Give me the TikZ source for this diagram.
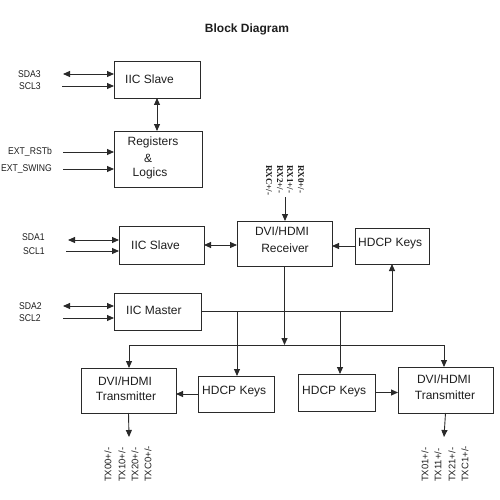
\documentclass[tikz,border=0pt]{standalone}
\usepackage{fontspec}
\setmainfont{Liberation Sans}
\newfontfamily\rxfont{Liberation Serif}
\usetikzlibrary{arrows.meta}
\definecolor{linec}{HTML}{2A2A2A}
\definecolor{textc}{HTML}{1E1E1E}
\begin{document}
\begin{tikzpicture}[x=1pt,y=-1pt,
  box/.style={draw=linec, line width=0.9pt, inner sep=0pt, outer sep=0pt},
  txt/.style={text=textc, font=\fontsize{12}{14}\selectfont, inner sep=0pt},
  sig/.style={text=textc, font=\fontsize{9.8}{11}\selectfont, inner sep=0pt, xscale=0.88},
  rxl/.style={text=textc, font=\rxfont\bfseries\fontsize{9}{10}\selectfont, inner sep=0pt, rotate=-90, anchor=west},
  txl/.style={text=textc, font=\fontsize{9.5}{11}\selectfont, inner sep=0pt, rotate=90, anchor=west},
  wire/.style={draw=linec, line width=0.9pt},
  arr/.style={wire, -{Triangle[length=7pt,width=6pt]}},
  barr/.style={wire, {Triangle[length=7pt,width=6pt]}-{Triangle[length=7pt,width=6pt]}}]
\useasboundingbox (0,0) rectangle (500,500);

% title
\node[text=textc, font=\bfseries\fontsize{12}{14}\selectfont, inner sep=0pt] (title) at (247,29) {Block Diagram};

% boxes
\node[box, minimum width=86pt, minimum height=37pt] (slA) at (157,79.5) {};
\node[box, minimum width=88pt, minimum height=56pt] (reg) at (158,159) {};
\node[box, minimum width=85pt, minimum height=38pt] (slB) at (161.5,245) {};
\node[box, minimum width=95pt, minimum height=45pt] (rcv) at (284.5,243.5) {};
\node[box, minimum width=74pt, minimum height=36pt] (hkR) at (392,246) {};
\node[box, minimum width=87pt, minimum height=37pt] (mst) at (157.5,311.5) {};
\node[box, minimum width=95pt, minimum height=45pt] (txL) at (128.5,390.5) {};
\node[box, minimum width=76pt, minimum height=36pt] (hkL) at (236,394) {};
\node[box, minimum width=77pt, minimum height=37pt] (hkM) at (336.5,392.5) {};
\node[box, minimum width=95pt, minimum height=46pt] (txR) at (445.5,390) {};

% box texts
\node[txt, anchor=west] (tslA) at (125,79) {IIC Slave};
\node[txt] (treg1) at (153,142) {Registers};
\node[txt] (treg2) at (148,158) {\&};
\node[txt] (treg3) at (150,173) {Logics};
\node[txt, anchor=west] (tslB) at (131,245) {IIC Slave};
\node[txt] (trcv1) at (282,231) {DVI/HDMI};
\node[txt] (trcv2) at (285,248) {Receiver};
\node[txt, anchor=west] (thkR) at (358,244) {HDCP Keys};
\node[txt, anchor=west] (tmst) at (126,310) {IIC Master};
\node[txt] (ttxL1) at (125,381) {DVI/HDMI};
\node[txt] (ttxL2) at (126,396) {Transmitter};
\node[txt, anchor=west] (thkL) at (202,392) {HDCP Keys};
\node[txt, anchor=west] (thkM) at (302,392) {HDCP Keys};
\node[txt] (ttxR1) at (444,379) {DVI/HDMI};
\node[txt] (ttxR2) at (445,395) {Transmitter};

% signal labels
\node[sig, anchor=west] (lsda3) at (18,74) {SDA3};
\node[sig, anchor=west] (lscl3) at (19,86) {SCL3};
\node[sig, anchor=east] (lrst) at (52,152) {EXT\_RSTb};
\node[sig, anchor=east] (lswg) at (52,169) {EXT\_SWING};
\node[sig, anchor=west] (lsda1) at (22,237) {SDA1};
\node[sig, anchor=west] (lscl1) at (23,251) {SCL1};
\node[sig, anchor=west] (lsda2) at (19,306) {SDA2};
\node[sig, anchor=west] (lscl2) at (19,318) {SCL2};

\node[rxl] (rxc) at (269,165) {RXC+/-};
\node[rxl] (rx2) at (280,165) {RX2+/-};
\node[rxl] (rx1) at (290,165) {RX1+/-};
\node[rxl] (rx0) at (301,165) {RX0+/-};

\node[txl] (tx00) at (108,482) {TX00+/-};
\node[txl] (tx10) at (122,482) {TX10+/-};
\node[txl] (tx20) at (135,482) {TX20+/-};
\node[txl] (txc0) at (148,482) {TXC0+/-};
\node[txl] (tx01) at (425,482) {TX01+/-};
\node[txl] (tx11) at (438,482) {TX11+/-};
\node[txl] (tx21) at (452,482) {TX21+/-};
\node[txl] (txc1) at (465,482) {TXC1+/-};

% free ends
\coordinate (csda3) at (63,74);
\coordinate (cscl3) at (62,86);
\coordinate (crst) at (63,152);
\coordinate (cswg) at (63,169);
\coordinate (csda1) at (68,240);
\coordinate (cscl1) at (66,251);
\coordinate (csda2) at (63,306);
\coordinate (cscl2) at (63,318);
\coordinate (crx) at (285,197);
\coordinate (j1) at (237,311.5);
\coordinate (j2) at (340,311.5);
\coordinate (busL) at (129,345);
\coordinate (busR) at (444,345);
\coordinate (oL) at (129,437);
\coordinate (oR) at (444,437);

% connectors
\draw[barr] (csda3) -- (csda3 -| slA.west);
\draw[arr] (cscl3) -- (cscl3 -| slA.west);
\draw[barr] (slA.south) -- (slA.south |- reg.north);
\draw[arr] (crst) -- (crst -| reg.west);
\draw[arr] (cswg) -- (cswg -| reg.west);
\draw[barr] (csda1) -- (csda1 -| slB.west);
\draw[arr] (cscl1) -- (cscl1 -| slB.west);
\draw[barr] (slB.east) -- (slB.east -| rcv.west);
\draw[arr] (hkR.west) -- (hkR.west -| rcv.east);
\draw[arr] (crx) -- (crx |- rcv.north);
\draw[barr] (csda2) -- (csda2 -| mst.west);
\draw[arr] (cscl2) -- (cscl2 -| mst.west);
\draw[arr] (mst.east) -| (hkR.south);
\draw[arr] (j1) -- (j1 |- hkL.north);
\draw[arr] (j2) -- (j2 |- hkM.north);
\draw[arr] (rcv.south) -- (rcv.south |- busL);
\draw[wire] (busL) -- (busR);
\draw[arr] (busL) -- (busL |- txL.north);
\draw[arr] (busR) -- (busR |- txR.north);
\draw[arr] (hkL.west) -- (hkL.west -| txL.east);
\draw[arr] (hkM.east) -- (hkM.east -| txR.west);
\draw[arr] (txL.south) -- (oL);
\draw[arr] (txR.south) -- (oR);
\end{tikzpicture}
\end{document}
